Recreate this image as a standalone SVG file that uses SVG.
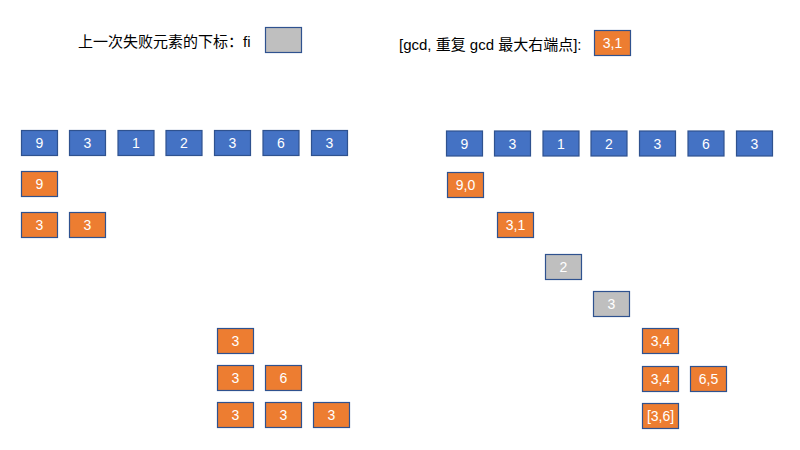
<svg xmlns="http://www.w3.org/2000/svg" width="800" height="450" viewBox="0 0 800 450">
<style>
.b{fill:#4472C4;stroke:#2F528F;stroke-width:1.2}
.o{fill:#ED7D31;stroke:#2F528F;stroke-width:1.2}
.g{fill:#BFBFBF;stroke:#2F528F;stroke-width:1.2}
.t{font-family:"Liberation Sans","Noto Sans CJK SC",sans-serif;font-size:14px;fill:#FFFFFF;text-anchor:middle;dominant-baseline:central}
.h{font-family:"Liberation Sans","Noto Sans CJK SC",sans-serif;font-size:15px;fill:#000000;dominant-baseline:central}
</style>
<rect width="800" height="450" fill="#FFFFFF"/>
<g id="legend-left">
<text class="h" x="78" y="41">上一次失败元素的下标：fi</text>
<rect class="g" x="265.5" y="27.5" width="36" height="25"/>
</g>
<g id="legend-right">
<text class="h" x="399" y="44">[gcd, 重复 gcd 最大右端点]:</text>
<rect class="o" x="594.5" y="30.5" width="36" height="25"/>
<text class="t" x="612.5" y="43">3,1</text>
</g>
<!-- left array -->
<g id="L0"><rect class="b" x="21.5" y="130.5" width="36" height="25"/><text class="t" x="39.5" y="143">9</text></g>
<g id="L1"><rect class="b" x="69.5" y="130.5" width="36" height="25"/><text class="t" x="87.5" y="143">3</text></g>
<g id="L2"><rect class="b" x="118" y="130.5" width="36" height="25"/><text class="t" x="136" y="143">1</text></g>
<g id="L3"><rect class="b" x="166" y="130.5" width="36" height="25"/><text class="t" x="184" y="143">2</text></g>
<g id="L4"><rect class="b" x="214.5" y="130.5" width="36" height="25"/><text class="t" x="232.5" y="143">3</text></g>
<g id="L5"><rect class="b" x="263" y="130.5" width="36" height="25"/><text class="t" x="281" y="143">6</text></g>
<g id="L6"><rect class="b" x="311.5" y="130.5" width="36" height="25"/><text class="t" x="329.5" y="143">3</text></g>
<g id="La"><rect class="o" x="21.5" y="171.5" width="36" height="25"/><text class="t" x="39.5" y="184">9</text></g>
<g id="Lb1"><rect class="o" x="21.5" y="212.5" width="36" height="25"/><text class="t" x="39.5" y="225">3</text></g>
<g id="Lb2"><rect class="o" x="69.5" y="212.5" width="36" height="25"/><text class="t" x="87.5" y="225">3</text></g>
<g id="Lc1"><rect class="o" x="217.5" y="328.5" width="36" height="25"/><text class="t" x="235.5" y="341">3</text></g>
<g id="Ld1"><rect class="o" x="217.5" y="365.5" width="36" height="25"/><text class="t" x="235.5" y="378">3</text></g>
<g id="Ld2"><rect class="o" x="265.5" y="365.5" width="36" height="25"/><text class="t" x="283.5" y="378">6</text></g>
<g id="Le1"><rect class="o" x="217.5" y="402.5" width="36" height="25"/><text class="t" x="235.5" y="415">3</text></g>
<g id="Le2"><rect class="o" x="265.5" y="402.5" width="36" height="25"/><text class="t" x="283.5" y="415">3</text></g>
<g id="Le3"><rect class="o" x="313.5" y="402.5" width="36" height="25"/><text class="t" x="331.5" y="415">3</text></g>
<!-- right array -->
<g id="R0"><rect class="b" x="446.5" y="131" width="36" height="25"/><text class="t" x="464.5" y="143.5">9</text></g>
<g id="R1"><rect class="b" x="494.5" y="131" width="36" height="25"/><text class="t" x="512.5" y="143.5">3</text></g>
<g id="R2"><rect class="b" x="543" y="131" width="36" height="25"/><text class="t" x="561" y="143.5">1</text></g>
<g id="R3"><rect class="b" x="591" y="131" width="36" height="25"/><text class="t" x="609" y="143.5">2</text></g>
<g id="R4"><rect class="b" x="639.5" y="131" width="36" height="25"/><text class="t" x="657.5" y="143.5">3</text></g>
<g id="R5"><rect class="b" x="688" y="131" width="36" height="25"/><text class="t" x="706" y="143.5">6</text></g>
<g id="R6"><rect class="b" x="736.5" y="131" width="36" height="25"/><text class="t" x="754.5" y="143.5">3</text></g>
<g id="Ra"><rect class="o" x="447.5" y="172.5" width="36" height="25"/><text class="t" x="465.5" y="185">9,0</text></g>
<g id="Rb"><rect class="o" x="497.5" y="212.5" width="36" height="25"/><text class="t" x="515.5" y="225">3,1</text></g>
<g id="Rc"><rect class="g" x="545.5" y="254.5" width="36" height="25"/><text class="t" x="563.5" y="267">2</text></g>
<g id="Rd"><rect class="g" x="593.5" y="291.5" width="36" height="25"/><text class="t" x="611.5" y="304">3</text></g>
<g id="Re"><rect class="o" x="642.5" y="328.5" width="36" height="25"/><text class="t" x="660.5" y="341">3,4</text></g>
<g id="Rf1"><rect class="o" x="642.5" y="366.5" width="36" height="25"/><text class="t" x="660.5" y="379">3,4</text></g>
<g id="Rf2"><rect class="o" x="690.5" y="366.5" width="36" height="25"/><text class="t" x="708.5" y="379">6,5</text></g>
<g id="Rg"><rect class="o" x="642.5" y="403.5" width="36" height="25"/><text class="t" x="660.5" y="416">[3,6]</text></g>
<g id="connectors"></g>
</svg>
